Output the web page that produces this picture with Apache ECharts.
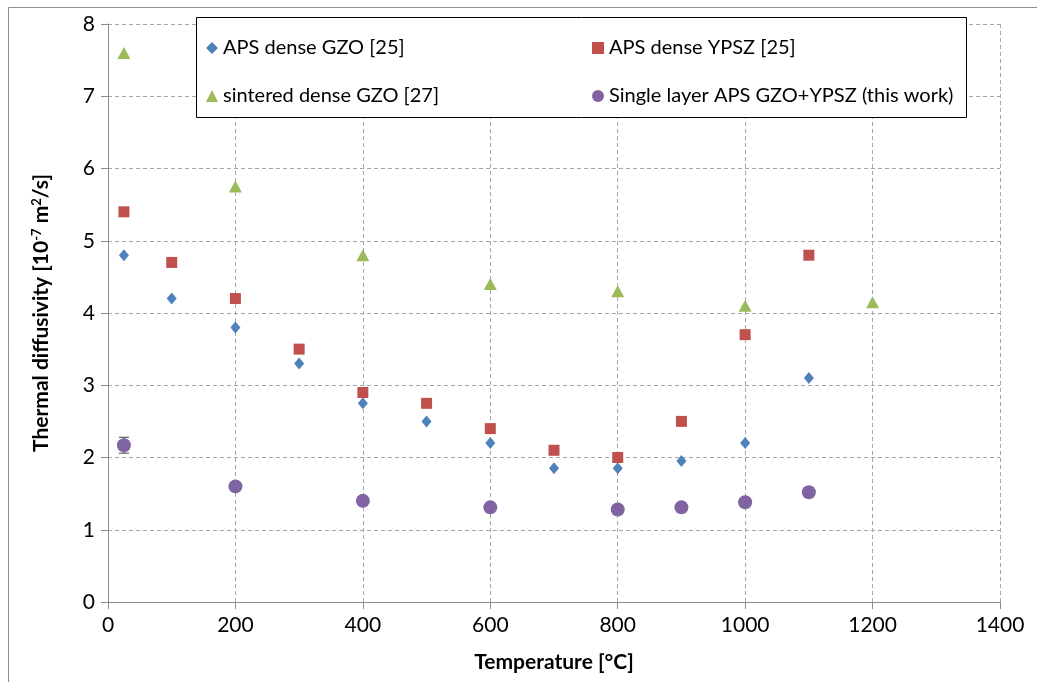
<!DOCTYPE html>
<html>
<head>
<meta charset="utf-8">
<script src="https://cdn.jsdelivr.net/npm/echarts@6/dist/echarts.min.js"></script>
<style>
  html, body { margin: 0; padding: 0; background: #fff; }
  #chart { width: 1037px; height: 682px; }
</style>
</head>
<body>
<div id="chart"></div>
<script>
// Temperatures [°C] and thermal diffusivity [1e-7 m^2/s]
const gzoApsT = [25, 100, 200, 300, 400, 500, 600, 700, 800, 900, 1000, 1100];
const gzoApsV = [4.8, 4.2, 3.8, 3.3, 2.75, 2.5, 2.2, 1.85, 1.85, 1.95, 2.2, 3.1];

const ypszApsT = [25, 100, 200, 300, 400, 500, 600, 700, 800, 900, 1000, 1100];
const ypszApsV = [5.4, 4.7, 4.2, 3.5, 2.9, 2.75, 2.4, 2.1, 2.0, 2.5, 3.7, 4.8];

const gzoSintT = [25, 200, 400, 600, 800, 1000, 1200];
const gzoSintV = [7.6, 5.75, 4.8, 4.4, 4.3, 4.1, 4.15];

const singleT = [25, 200, 400, 600, 800, 900, 1000, 1100];
const singleV = [2.17, 1.6, 1.4, 1.31, 1.28, 1.31, 1.38, 1.52];
const singleErr = [0.11, 0, 0, 0, 0, 0, 0, 0];

const seriesNames = [
  'APS dense GZO [25]',
  'APS dense YPSZ [25]',
  'sintered dense GZO [27]',
  'Single layer APS GZO+YPSZ (this work)'
];

const FONT = 'Lato, "Open Sans", sans-serif';
const AXIS_COLOR = '#8c8c8c';
const pairs = (xs, ys) => xs.map((x, i) => [x, ys[i]]);

const chart = echarts.init(document.getElementById('chart'), null, { renderer: 'canvas' });

function legendAt(name, left, top) {
  return {
    data: [name], left: left, top: top, z: 20, itemWidth: 12, itemHeight: 12, itemGap: 0,
    textStyle: { fontFamily: FONT, fontSize: 20, color: '#000', padding: [0, 0, 0, 0] },
    selectedMode: false
  };
}

const option = {
  backgroundColor: '#fff',
  animation: false,
  grid: { left: 108, right: 37, top: 24, bottom: 80, containLabel: false },
  graphic: [
    { type: 'rect', z: 0, silent: true,
      shape: { x: 8.5, y: 7.5, width: 1100, height: 800 },
      style: { fill: 'none', stroke: AXIS_COLOR, lineWidth: 1 } },
    { type: 'rect', z: 5, silent: true,
      shape: { x: 196.5, y: 17.5, width: 770, height: 100 },
      style: { fill: '#fff', stroke: '#000', lineWidth: 1 } }
  ],
  legend: [
    legendAt(seriesNames[0], 201, 33),
    legendAt(seriesNames[1], 587, 33),
    legendAt(seriesNames[2], 201, 81),
    legendAt(seriesNames[3], 587, 81)
  ],
  xAxis: {
    type: 'value', min: 0, max: 1400, interval: 200,
    name: 'Temperature [°C]', nameLocation: 'middle', nameGap: 50,
    nameTextStyle: { fontFamily: FONT, fontSize: 21, fontWeight: 'bold', color: '#000' },
    axisLine: { show: true, lineStyle: { color: AXIS_COLOR, width: 1 } },
    axisTick: { show: true, inside: false, length: 7, lineStyle: { color: AXIS_COLOR } },
    axisLabel: { fontFamily: FONT, fontSize: 21, color: '#000', margin: 13,
                 formatter: v => String(v) },
    splitLine: { show: true, lineStyle: { color: '#a6a6a6', type: [4, 3], width: 1 } }
  },
  yAxis: {
    type: 'value', min: 0, max: 8, interval: 1,
    name: 'Thermal diffusivity [10{sup|-7} m{sup|2}/s]',
    nameLocation: 'middle', nameGap: 56, nameRotate: 90,
    nameTextStyle: {
      fontFamily: FONT, fontSize: 21, fontWeight: 'bold', color: '#000',
      rich: {
        sup: { fontFamily: FONT, fontSize: 13, fontWeight: 'bold', color: '#000',
               verticalAlign: 'top', padding: [0, 0, 9, 0] }
      }
    },
    axisLine: { show: true, lineStyle: { color: AXIS_COLOR, width: 1 } },
    axisTick: { show: true, inside: false, length: 7, lineStyle: { color: AXIS_COLOR } },
    axisLabel: { fontFamily: FONT, fontSize: 21, color: '#000', margin: 13 },
    splitLine: { show: true, lineStyle: { color: '#a6a6a6', type: [4, 3], width: 1 } }
  },
  series: [
    { name: seriesNames[0], type: 'scatter', symbol: 'diamond', symbolSize: [10, 12],
      itemStyle: { color: '#4F81BD', opacity: 1 }, data: pairs(gzoApsT, gzoApsV), z: 3 },
    { name: seriesNames[1], type: 'scatter', symbol: 'rect', symbolSize: 11,
      itemStyle: { color: '#C0504D', opacity: 1 }, data: pairs(ypszApsT, ypszApsV), z: 3 },
    { name: seriesNames[2], type: 'scatter', symbol: 'triangle', symbolSize: [13, 12],
      itemStyle: { color: '#9BBB59', opacity: 1 }, data: pairs(gzoSintT, gzoSintV), z: 3 },
    { name: seriesNames[3], type: 'scatter', symbol: 'circle', symbolSize: 14,
      itemStyle: { color: '#8064A2', opacity: 1 }, data: pairs(singleT, singleV), z: 4 },
    { name: 'err', type: 'custom', z: 3, silent: true,
      data: singleT.map((t, i) => [t, singleV[i], singleErr[i]]),
      renderItem: function (params, api) {
        const e = api.value(2);
        if (!e) return null;
        const x = api.value(0), y = api.value(1);
        const top = api.coord([x, y + e]);
        const bot = api.coord([x, y - e]);
        const c = '#404040', w = 5;
        return {
          type: 'group',
          children: [
            { type: 'line', shape: { x1: top[0], y1: top[1], x2: bot[0], y2: bot[1] }, style: { stroke: c, lineWidth: 1 } },
            { type: 'line', shape: { x1: top[0] - w, y1: top[1], x2: top[0] + w, y2: top[1] }, style: { stroke: c, lineWidth: 1 } },
            { type: 'line', shape: { x1: bot[0] - w, y1: bot[1], x2: bot[0] + w, y2: bot[1] }, style: { stroke: c, lineWidth: 1 } }
          ]
        };
      }
    }
  ]
};

chart.setOption(option);
</script>
</body>
</html>
